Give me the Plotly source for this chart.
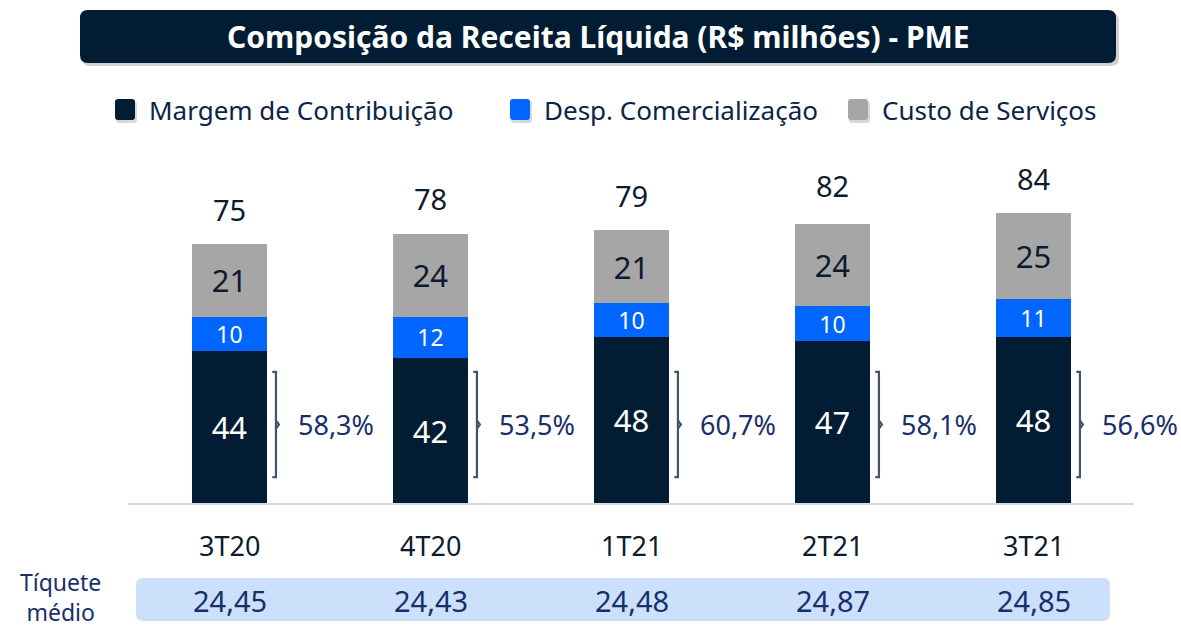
import plotly.graph_objects as go

categories = ["3T20", "4T20", "1T21", "2T21", "3T21"]
margem = [44, 42, 48, 47, 48]
desp = [10, 12, 10, 10, 11]
custo = [21, 24, 21, 24, 25]
totais = [75, 78, 79, 82, 84]
pct_margem = ["58,3%", "53,5%", "60,7%", "58,1%", "56,6%"]
tiquete = ["24,45", "24,43", "24,48", "24,87", "24,85"]
series_names = ["Margem de Contribuição", "Desp. Comercialização", "Custo de Serviços"]

C_DARK = "#021d33"
C_BLUE = "#0066ff"
C_GRAY = "#a6a6a6"
C_NAVY = "#17306b"
C_TEXT = "#0d1b2e"
FONT = "Noto Sans"

W, H = 1181, 627
L, R, T, B = 128, 1134, 158, 503
PW, PH = R - L, B - T
XR = [-0.505, 4.5]


def px(x):
    return (x - L) / PW


def py(y):
    return (B - y) / PH


def xd2paper(v):
    return (v - XR[0]) / (XR[1] - XR[0])


def rrect(x0, y0, x1, y1, r):
    rx, ry = r / PW, r / PH
    X0, X1 = px(x0), px(x1)
    Y0, Y1 = py(y1), py(y0)
    return (f"M {X0+rx},{Y0} L {X1-rx},{Y0} Q {X1},{Y0} {X1},{Y0+ry} "
            f"L {X1},{Y1-ry} Q {X1},{Y1} {X1-rx},{Y1} L {X0+rx},{Y1} "
            f"Q {X0},{Y1} {X0},{Y1-ry} L {X0},{Y0+ry} Q {X0},{Y0} {X0+rx},{Y0} Z")


x = list(range(len(categories)))
bw = 0.373

fig = go.Figure()
fig.add_trace(go.Bar(x=x, y=margem, name=series_names[0], marker_color=C_DARK, width=bw,
                     text=margem, textposition="inside", insidetextanchor="middle", textangle=0,
                     textfont=dict(color="white", size=31, family=FONT), constraintext="none"))
fig.add_trace(go.Bar(x=x, y=desp, name=series_names[1], marker_color=C_BLUE, width=bw,
                     text=desp, textposition="inside", insidetextanchor="middle", textangle=0,
                     textfont=dict(color="white", size=23, family=FONT), constraintext="none"))
fig.add_trace(go.Bar(x=x, y=custo, name=series_names[2], marker_color=C_GRAY, width=bw,
                     text=custo, textposition="inside", insidetextanchor="middle", textangle=0,
                     textfont=dict(color=C_TEXT, size=31, family=FONT), constraintext="none"))
for tr in fig.data:
    tr.marker.line.width = 0

shapes = []
annotations = []

# title bar
shapes.append(dict(type="path", xref="paper", yref="paper", path=rrect(82, 13, 1119, 66, 8),
                   fillcolor="rgba(0,0,0,0.18)", line=dict(width=0), layer="below"))
shapes.append(dict(type="path", xref="paper", yref="paper", path=rrect(80, 10, 1116, 63, 8),
                   fillcolor="#011c33", line=dict(width=0), layer="below"))
annotations.append(dict(xref="paper", yref="paper", x=px(598), y=py(37), text="<b>Composição da Receita Líquida (R$ milhões) - PME</b>",
                        showarrow=False, font=dict(color="white", size=30, family=FONT), xanchor="center", yanchor="middle"))

# legend
leg_x = [115, 510, 848]
leg_cols = [C_DARK, C_BLUE, C_GRAY]
for lx, col, name in zip(leg_x, leg_cols, series_names):
    shapes.append(dict(type="path", xref="paper", yref="paper", path=rrect(lx + 1, 101, lx + 22, 123, 3),
                       fillcolor="rgba(0,0,0,0.15)", line=dict(width=0)))
    shapes.append(dict(type="path", xref="paper", yref="paper", path=rrect(lx, 99, lx + 20, 120, 3),
                       fillcolor=col, line=dict(width=0)))
    annotations.append(dict(xref="paper", yref="paper", x=px(lx + 32), y=py(110), text=name, showarrow=False,
                            font=dict(color="#0b2447", size=26, family=FONT), xanchor="left", yanchor="middle"))

# totals, brackets, percentages, categories, tiquete
br_top, br_bot = 38.0, 7.5
br_mid = (br_top + br_bot) / 2
for i, cat in enumerate(categories):
    annotations.append(dict(x=i, y=totais[i], xref="x", yref="y", text=str(totais[i]), showarrow=False,
                            yshift=35, font=dict(color=C_TEXT, size=29, family=FONT), yanchor="middle"))
    xv = i + 0.231
    xl = i + 0.213
    xn = i + 0.246
    path = (f"M {xl},{br_top} L {xv},{br_top} L {xv},{br_bot} L {xl},{br_bot} "
            f"M {xv},{br_mid + 1.2} L {xn},{br_mid} L {xv},{br_mid - 1.2}")
    shapes.append(dict(type="path", xref="x", yref="y", path=path, line=dict(color="#44546a", width=2.2)))
    annotations.append(dict(x=xd2paper(i + 0.53), y=br_mid, xref="paper", yref="y", text=pct_margem[i], showarrow=False,
                            font=dict(color=C_NAVY, size=27, family=FONT), xanchor="center", yanchor="middle"))
    annotations.append(dict(x=i, y=py(545), xref="x", yref="paper", text=cat, showarrow=False,
                            font=dict(color=C_TEXT, size=27, family=FONT), yanchor="middle"))
    annotations.append(dict(x=i, y=py(600), xref="x", yref="paper", text=tiquete[i], showarrow=False,
                            font=dict(color=C_NAVY, size=29, family=FONT), yanchor="middle"))

shapes.append(dict(type="path", xref="paper", yref="paper", path=rrect(136, 578, 1110, 621, 7),
                   fillcolor="#cce0fb", line=dict(width=0), layer="below"))
annotations.append(dict(xref="paper", yref="paper", x=px(60), y=py(597), text="Tíquete<br>médio", showarrow=False,
                        font=dict(color=C_NAVY, size=23, family=FONT), xanchor="center", yanchor="middle"))

fig.update_layout(
    width=W, height=H,
    margin=dict(l=L, r=W - R, t=T, b=H - B),
    barmode="stack", showlegend=False,
    plot_bgcolor="white", paper_bgcolor="white",
    xaxis=dict(range=XR, showticklabels=False, ticks="", showgrid=False, zeroline=False,
               showline=True, linecolor="#d9d9d9", linewidth=1.5, fixedrange=True),
    yaxis=dict(range=[0, 100], visible=False, showgrid=False, zeroline=False),
    shapes=shapes, annotations=annotations,
    font=dict(family=FONT),
)

fig.write_html("out.html", config={"displayModeBar": False},
               post_script="document.body.style.margin='0';document.body.style.overflow='hidden';")
